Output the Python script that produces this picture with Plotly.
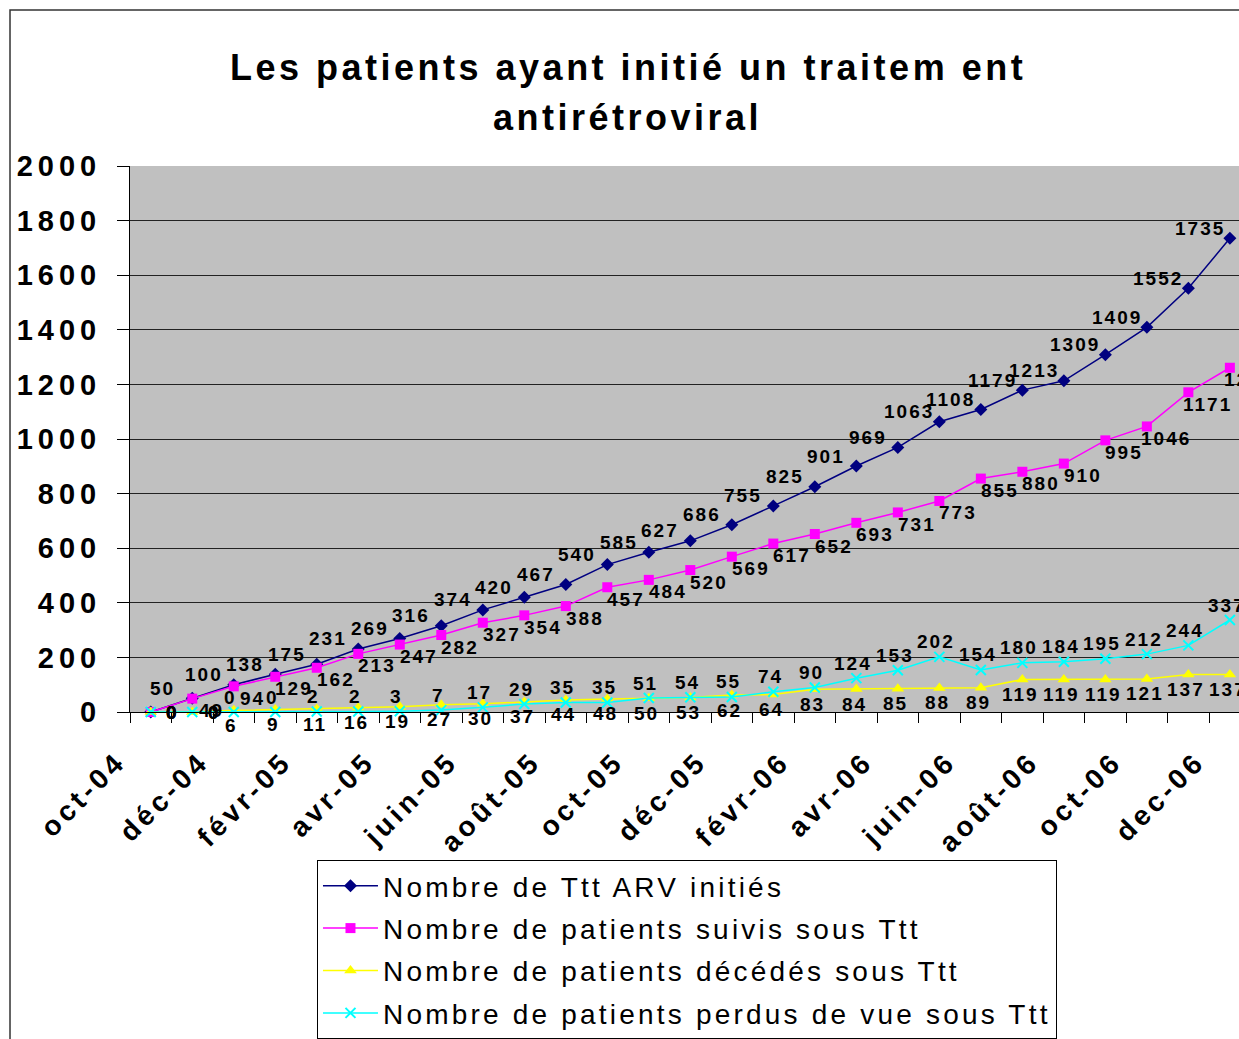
import plotly.graph_objects as go

# ---------------- data ----------------
months = ["oct-04", "nov-04", "déc-04", "janv-05", "févr-05", "mars-05", "avr-05",
          "mai-05", "juin-05", "juil-05", "août-05", "sept-05", "oct-05", "nov-05",
          "déc-05", "janv-06", "févr-06", "mars-06", "avr-06", "mai-06", "juin-06",
          "juil-06", "août-06", "sept-06", "oct-06", "nov-06", "dec-06"]
initiated = [0, 50, 100, 138, 175, 231, 269, 316, 374, 420, 467, 540, 585, 627, 686,
             755, 825, 901, 969, 1063, 1108, 1179, 1213, 1309, 1409, 1552, 1735]
followed = [0, 49, 94, 129, 162, 213, 247, 282, 327, 354, 388, 457, 484, 520, 569,
            617, 652, 693, 731, 773, 855, 880, 910, 995, 1046, 1171, 1261]
deceased = [0, 0, 6, 9, 11, 16, 19, 27, 30, 37, 44, 48, 50, 53, 62,
            64, 83, 84, 85, 88, 89, 119, 119, 119, 121, 137, 137]
lost = [0, 0, 0, 0, 2, 2, 3, 7, 17, 29, 35, 35, 51, 54, 55,
        74, 90, 124, 153, 202, 154, 180, 184, 195, 212, 244, 337]
series_names = ["Nombre de Ttt ARV initiés",
                "Nombre de patients suivis sous Ttt",
                "Nombre de patients décédés sous Ttt",
                "Nombre de patients perdus de vue sous Ttt"]
title_lines = ["Les patients ayant initié un traitem ent", "antirétroviral"]
y_ticks = list(range(0, 2001, 200))

FONT = "Liberation Sans, Arial, sans-serif"


def spaced(t, px):
    return f"<span style='letter-spacing:{px}px'>{t}</span>"


xs = list(range(len(months)))

styles = [
    dict(color="#000080", marker=dict(symbol="diamond", size=10, color="#000080"), off=(-30, 10)),
    dict(color="#FF00FF", marker=dict(symbol="square", size=10, color="#FF00FF"), off=(19, -12)),
    dict(color="#FFFF00", marker=dict(symbol="triangle-up", size=11, color="#FFFF00"), off=(-2, -15)),
    dict(color="#00FFFF", marker=dict(symbol="x-thin", size=10, color="#00FFFF",
                                      line=dict(width=2, color="#00FFFF")), off=(-3, 15)),
]
values = [initiated, followed, deceased, lost]
ZERO_START_OFFSET = (22, 0)  # leading zero labels sit to the right of their point

fig = go.Figure()
annotations = []
for i, (name, vals, st) in enumerate(zip(series_names, values, styles)):
    fig.add_trace(go.Scatter(
        x=xs, y=vals, mode="lines+markers", name=spaced(name, 3.2),
        line=dict(color=st["color"], width=1.5), marker=st["marker"],
        cliponaxis=False, legendgroup=f"g{i}", showlegend=True,
    ))
    for xi, v in zip(xs, vals):
        off = ZERO_START_OFFSET if (xi < 2 and v == 0) else st["off"]
        annotations.append(dict(
            x=xi, y=v, xref="x", yref="y", text=spaced(str(v), 2), showarrow=False,
            xshift=off[0], yshift=off[1],
            font=dict(family=FONT, size=19, color="black", weight="bold"),
        ))

# title (two lines)
for t, ty in zip(title_lines, [1.1813, 1.0897]):
    annotations.append(dict(
        xref="paper", yref="paper", x=0.449, y=ty, xanchor="center", yanchor="middle",
        text=spaced(t, 3.5), showarrow=False,
        font=dict(family=FONT, size=36, color="black", weight="bold"),
    ))

fig.update_layout(
    width=1239, height=1039,
    margin=dict(l=130, r=0, t=166, b=327),
    paper_bgcolor="white", plot_bgcolor="#C0C0C0",
    annotations=annotations,
    showlegend=True,
    legend=dict(
        x=0.1686, y=-0.2711, xanchor="left", yanchor="top",
        bgcolor="white", bordercolor="black", borderwidth=1,
        font=dict(family=FONT, size=28, color="black"),
        tracegroupgap=3, itemwidth=55,
    ),
    shapes=[dict(type="rect", xref="paper", yref="paper",
                 x0=-0.1082, x1=1.2, y0=-0.7, y1=1.2857,
                 line=dict(color="#333333", width=1.5), layer="below")],
)

fig.update_xaxes(
    range=[-0.5, 26.22],
    tickmode="array", tickvals=xs[::2], ticktext=[spaced(m, 4) for m in months[::2]],
    tickangle=-45, ticks="", showgrid=False,
    showline=True, linecolor="black", linewidth=1,
    tickfont=dict(family=FONT, size=28, color="black", weight="bold"),
    minor=dict(tick0=-0.5, dtick=1, ticks="outside", ticklen=10, tickcolor="black", showgrid=False),
    zeroline=False, ticklabelstandoff=21, ticklabelshift=-33, ticklabeloverflow="allow",
)
fig.update_yaxes(
    range=[0, 2000],
    tickmode="array", tickvals=y_ticks, ticktext=[spaced(str(t), 5) for t in y_ticks],
    ticks="outside", ticklen=12, tickcolor="black",
    showgrid=True, gridcolor="#222222", gridwidth=1,
    showline=True, linecolor="black", linewidth=1, zeroline=False,
    tickfont=dict(family=FONT, size=29, color="black", weight="bold"),
    ticklabelstandoff=10,
)

fig.write_html("out.html", config={"displayModeBar": False},
               post_script="document.body.style.margin='0';")
